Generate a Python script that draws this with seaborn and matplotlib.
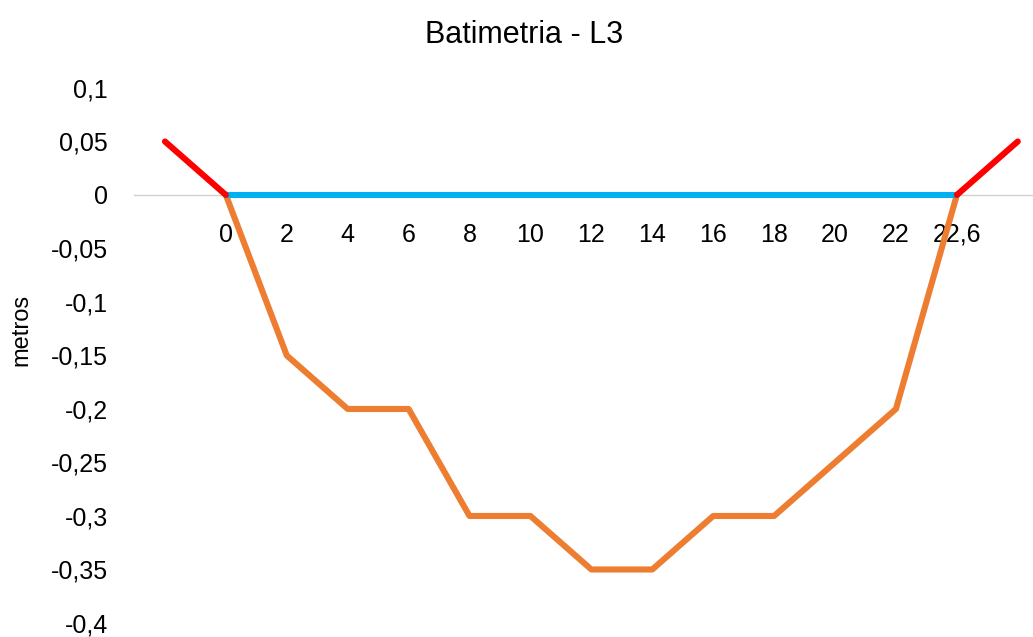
import matplotlib
matplotlib.use("Agg")
import matplotlib.pyplot as plt
import seaborn as sns
import pandas as pd
import numpy as np

# categories along the section (blank ends hold the bank lines)
categorias = ["", "0", "2", "4", "6", "8", "10", "12", "14", "16", "18", "20", "22", "22,6", ""]
fundo = [np.nan, 0, -0.15, -0.2, -0.2, -0.3, -0.3, -0.35, -0.35, -0.3, -0.3, -0.25, -0.2, 0, np.nan]
agua = [np.nan, 0, 0, 0, 0, 0, 0, 0, 0, 0, 0, 0, 0, 0, np.nan]
margem_esq = [0.05, 0] + [np.nan] * 13
margem_dir = [np.nan] * 13 + [0, 0.05]
yticks = [0.1, 0.05, 0, -0.05, -0.1, -0.15, -0.2, -0.25, -0.3, -0.35, -0.4]

df = pd.DataFrame({
    "pos": range(len(categorias)),
    "fundo": fundo,
    "agua": agua,
    "esq": margem_esq,
    "dir": margem_dir,
})

sns.set_style("white")
plt.rcParams["font.family"] = ["Liberation Sans", "DejaVu Sans"]
plt.rcParams["text.color"] = "black"
plt.rcParams["xtick.color"] = "black"
plt.rcParams["ytick.color"] = "black"
plt.rcParams["axes.labelcolor"] = "black"

fig = plt.figure(figsize=(10.33, 6.37), dpi=100)
ax = fig.add_axes([0.1302, 0.022, 0.8698, 0.8399])

lw = 4.4
sns.lineplot(data=df, x="pos", y="fundo", color="#ED7D31", lw=lw, ax=ax)
sns.lineplot(data=df, x="pos", y="agua", color="#00B0F0", lw=lw, ax=ax)
sns.lineplot(data=df, x="pos", y="esq", color="#FF0000", lw=lw, ax=ax)
sns.lineplot(data=df, x="pos", y="dir", color="#FF0000", lw=lw, ax=ax)

ax.set_xlim(-0.5, 14.25)
ax.set_ylim(-0.4, 0.1)

ax.set_xticks(df["pos"])
ax.set_xticklabels(categorias)
ax.set_yticks(yticks)
ax.set_yticklabels([("%g" % v).replace(".", ",") for v in yticks])
ax.tick_params(axis="x", length=0, pad=20, labelsize=18, colors="black")
ax.tick_params(axis="y", length=0, pad=19, labelsize=18, colors="black")
for lab in ax.get_xticklabels():
    lab.set_va("baseline")

for s in ["top", "right", "left"]:
    ax.spines[s].set_visible(False)
ax.spines["bottom"].set_position(("data", 0))
ax.spines["bottom"].set_color("#d0d0d0")
ax.spines["bottom"].set_linewidth(1.0)
ax.spines["bottom"].set_zorder(0)

ax.set_xlabel("")
ax.set_ylabel("metros", fontsize=17, color="black")
ax.yaxis.set_label_coords(-0.114, 0.548)
fig.text(0.507, 0.945, "Batimetria - L3", fontsize=22, ha="center", va="center", color="black")

fig.savefig("out.png", dpi=100)
